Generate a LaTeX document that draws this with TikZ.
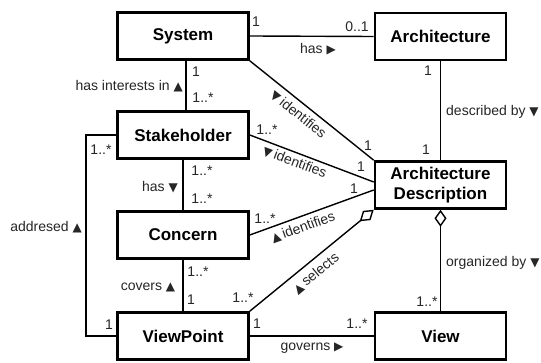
\documentclass[tikz,border=0pt]{standalone}
\usepackage{fontspec}
\setmainfont{Liberation Sans}
\newfontfamily\symf{DejaVu Sans}
\usetikzlibrary{arrows.meta}
\newcommand{\tup}{{\symf\fontsize{12}{12}\selectfont ▲}}
\newcommand{\tdn}{{\symf\fontsize{12}{12}\selectfont ▼}}
\newcommand{\trt}{{\symf\fontsize{12}{12}\selectfont ▶}}
\tikzset{
  box/.style={draw, line width=2.6pt, minimum width=131pt, minimum height=47pt,
    font=\fontsize{17}{20}\selectfont\bfseries, align=center, inner sep=0pt},
  conn/.style={line width=1.4pt},
  lbl/.style={font=\fontsize{14}{16}\selectfont, inner sep=0pt, text=black!85},
  agg/.style={-{Diamond[open,length=18pt,width=12pt,line width=1.4pt]}},
  aggs/.style={{Diamond[open,length=17pt,width=12pt,line width=1.4pt]}-},
}
\begin{document}
\begin{tikzpicture}[x=1pt,y=-1pt]
\useasboundingbox[fill=white] (0,0) rectangle (541,363);
% boxes
\node[box] (sys) at (183,36) {System};
\node[box] (arch) at (440.5,36.5) {Architecture};
\node[box] (st) at (183,135) {Stakeholder};
\node[box] (co) at (183,235) {Concern};
\node[box] (vp) at (183,336) {ViewPoint};
\node[box] (ad) at (440.5,185) {Architecture\\Description};
\node[box] (view) at (440.5,336) {View};
\coordinate (addr) at (86,135);
% connectors
\draw[conn] (sys.east) -- (arch.west);
\draw[conn] ([xshift=3pt]sys.south) -- ([xshift=3pt]st.north);
\draw[conn] (st.south) -- (co.north);
\draw[conn] (co.south) -- (vp.north);
\draw[conn] (vp.east) -- (view.west);
\draw[conn] (arch.south) -- (ad.north);
\draw[conn,aggs] (ad.south) -- (view.north);
\draw[conn] (st.west) -- (addr) |- (vp.west);
\draw[conn] (sys.south east) -- (ad.north west)
  node[lbl, pos=0.45, sloped, below=5pt] (t1) {\tdn\,identifies};
\draw[conn] (st.east) -- ([yshift=3pt]ad.west)
  node[lbl, pos=0.39, sloped, below=3pt] (t2) {\tdn\,identifies};
\draw[conn] (co.east) -- ([yshift=-5pt]ad.west)
  node[lbl, pos=0.40, sloped, below=4.5pt] (t3) {\tup\,identifies};
\draw[conn,agg] (vp.north east) -- (ad.south west)
  node[lbl, pos=0.47, sloped, below=6pt] (t4) {\tup\,selects};
% labels
\node[lbl] (m1) at (256,22) {1};
\node[lbl] (m2) at (357,27) {0..1};
\node[lbl] (r1) at (318,49) {has \trt};
\node[lbl] (m3) at (196,72) {1};
\node[lbl] (m4) at (203,98) {1..*};
\node[lbl, anchor=east] (r2) at (183,86) {has interests in \tup};
\node[lbl] (m5) at (267,130) {1..*};
\node[lbl] (m6) at (368,146) {1};
\node[lbl] (m7) at (426,150) {1};
\node[lbl] (m8) at (428,71) {1};
\node[lbl, anchor=west] (r3) at (446,112) {described by \tdn};
\node[lbl] (m9) at (361,167) {1};
\node[lbl] (m10) at (354,189) {1};
\node[lbl] (m11) at (265,219) {1..*};
\node[lbl] (m12) at (202,171) {1..*};
\node[lbl] (r4) at (160,187) {has \tdn};
\node[lbl] (m13) at (202,199) {1..*};
\node[lbl] (r5) at (46,227) {addresed \tup};
\node[lbl] (m14) at (101,150) {1..*};
\node[lbl] (m15) at (109,325) {1};
\node[lbl] (m16) at (198,272) {1..*};
\node[lbl] (r6) at (148,287) {covers \tup};
\node[lbl] (m17) at (191,300) {1};
\node[lbl] (m18) at (243,298) {1..*};
\node[lbl] (m19) at (257,324) {1};
\node[lbl] (m20) at (357,324) {1..*};
\node[lbl] (r7) at (312,348) {governs \trt};
\node[lbl, anchor=west] (r8) at (446,263) {organized by \tdn};
\node[lbl] (m21) at (427,302) {1..*};
\end{tikzpicture}
\end{document}
